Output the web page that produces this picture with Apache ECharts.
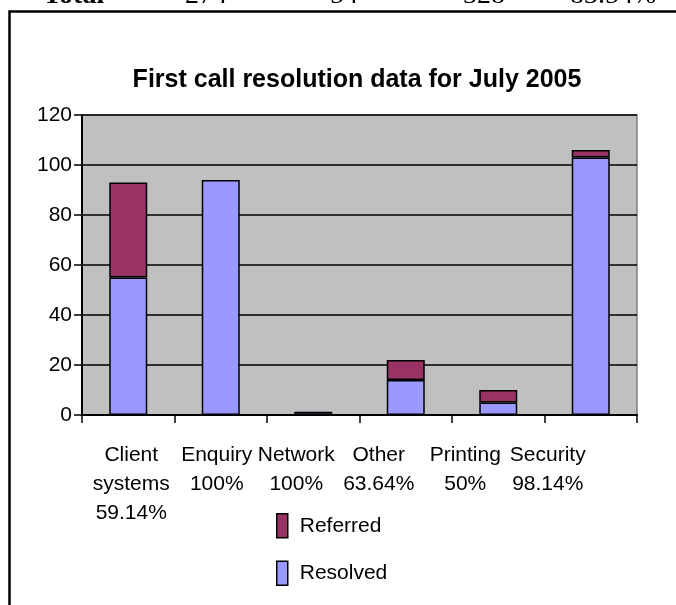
<!DOCTYPE html>
<html>
<head>
<meta charset="utf-8">
<script src="https://cdn.jsdelivr.net/npm/echarts@6/dist/echarts.min.js"></script>
<style>
  html, body { margin: 0; padding: 0; background: #fff; }
  #main { width: 676px; height: 605px; }
</style>
</head>
<body>
<div id="main"></div>
<script>
// data
const categories = ['Client\nsystems\n59.14%', 'Enquiry\n100%', 'Network\n100%', 'Other\n63.64%', 'Printing\n50%', 'Security\n98.14%'];
const resolved = [55, 94, 1.3, 14, 5, 103];
const referred = [38, 0, 0, 8, 5, 3];
const yTicks = { min: 0, max: 120, interval: 20 };
// the clipped table row above the chart
const totalRow = ['Total', '274', '54', '328', '83.54%'];

// Excel pushed the category labels left, shift per label (px)
const labelShift = [3, -4, -17, -27, -33, -43];

const font = '"Liberation Sans", Arial, sans-serif';

let rich = {};
labelShift.forEach((d, i) => {
  rich['s' + i] = {
    fontSize: 21,
    fontFamily: font,
    color: '#000',
    lineHeight: 29,
    padding: d < 0 ? [0, -2 * d, 0, 0] : [0, 0, 0, 2 * d]
  };
});

const myChart = echarts.init(document.getElementById('main'));

const totalX = [43, 185, 330, 463, 570];

// zero segments are not drawn at all (no border line)
const hideZero = arr => arr.map(v => (v === 0 ? '-' : v));

let option = {
  animation: false,
  backgroundColor: '#fff',
  title: {
    text: 'First call resolution data for July 2005',
    left: 352,
    top: 63,
    textAlign: 'center',
    textStyle: { fontSize: 25, fontWeight: 'bold', fontFamily: font, color: '#000' }
  },
  legend: {
    orient: 'vertical',
    left: 276,
    top: 513,
    padding: 0,
    itemWidth: 11,
    itemHeight: 24,
    itemGap: 22,
    icon: 'rect',
    data: ['Referred', 'Resolved'],
    itemStyle: { borderColor: '#000', borderWidth: 1.5 },
    textStyle: { fontSize: 21, fontFamily: font, color: '#000', padding: [0, 0, 0, 7] }
  },
  grid: {
    left: 82,
    right: 39,
    top: 115,
    bottom: 190,
    show: true,
    backgroundColor: '#C0C0C0',
    borderColor: '#808080',
    borderWidth: 1.5
  },
  xAxis: {
    type: 'category',
    data: categories,
    axisLine: { lineStyle: { color: '#000', width: 2 } },
    axisTick: { show: true, length: 8, alignWithLabel: false, lineStyle: { color: '#000', width: 1.5 } },
    axisLabel: {
      margin: 26,
      interval: 0,
      formatter: (value, index) => value.split('\n').map(s => '{s' + index + '|' + s + '}').join('\n'),
      rich: rich
    }
  },
  yAxis: {
    type: 'value',
    min: yTicks.min,
    max: yTicks.max,
    interval: yTicks.interval,
    axisLine: { show: true, lineStyle: { color: '#000', width: 2 } },
    axisTick: { show: true, length: 8, lineStyle: { color: '#000', width: 1.5 } },
    axisLabel: { margin: 10, fontSize: 21, fontFamily: font, color: '#000' },
    splitLine: { lineStyle: { color: '#000', width: 1.5 } }
  },
  series: [
    {
      name: 'Resolved',
      type: 'bar',
      stack: 'calls',
      barWidth: 38,
      itemStyle: { color: '#9999FF', borderColor: '#000', borderWidth: 1.5 },
      data: hideZero(resolved)
    },
    {
      name: 'Referred',
      type: 'bar',
      stack: 'calls',
      barWidth: 38,
      itemStyle: { color: '#993366', borderColor: '#000', borderWidth: 1.5 },
      data: hideZero(referred)
    }
  ],
  graphic: [
    {
      type: 'rect',
      shape: { x: 9.5, y: 11.5, width: 700, height: 700 },
      style: { fill: 'none', stroke: '#000', lineWidth: 2.5 },
      silent: true
    }
  ].concat(totalRow.map((t, i) => ({
    type: 'text',
    left: totalX[i],
    top: -18,
    style: {
      text: t,
      font: (i === 0 ? 'bold ' : '') + '28px "Liberation Serif", "Times New Roman", serif',
      fill: '#000'
    },
    silent: true
  })))
};

option && myChart.setOption(option);
</script>
</body>
</html>
